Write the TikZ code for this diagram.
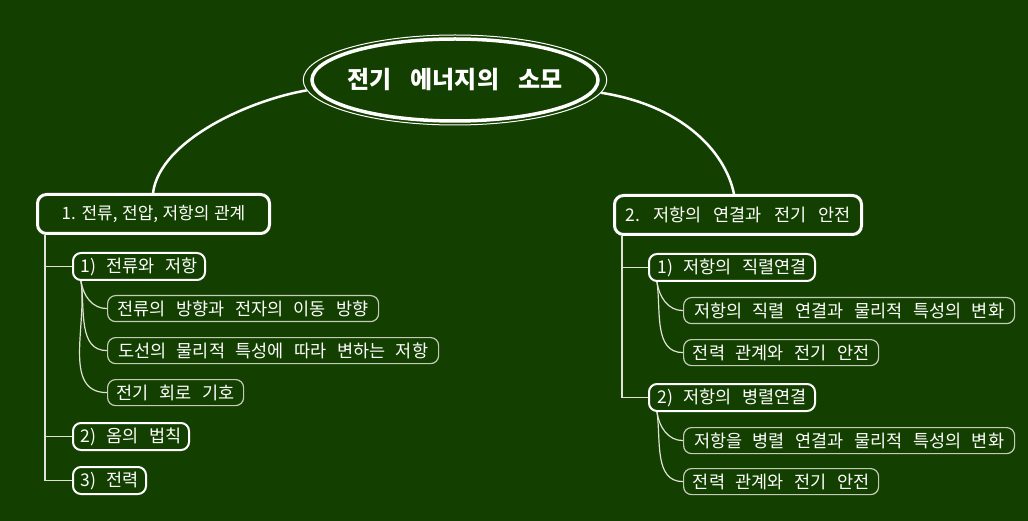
\documentclass[tikz,border=0pt]{standalone}
\usepackage{fontspec}
\setmainfont{Noto Sans CJK KR}
\usetikzlibrary{shapes.geometric}
\definecolor{bg}{RGB}{19,64,0}
\definecolor{leafdraw}{RGB}{196,204,184}
\definecolor{linec}{RGB}{224,226,214}
\newcommand\mytitlefont{\fontsize{24}{28}\selectfont\bfseries\spaceskip 19pt\relax}
\newcommand\myboxfont{\fontsize{17}{22}\selectfont\spaceskip 4.5pt\relax}
\newcommand\myboxfontwide{\fontsize{17.5}{22}\selectfont\spaceskip 12pt\relax}
\newcommand\myleaffont{\fontsize{17.5}{20}\selectfont\spaceskip 10.5pt\relax}
\begin{document}
\begin{tikzpicture}[x=1pt,y=-1pt,
  titlenode/.style={ellipse, draw=white, line width=1pt, minimum width=294pt, minimum height=90pt, inner sep=0pt, text=white, font=\mytitlefont},
  mainbox/.style={draw=white, line width=3pt, rounded corners=9pt, text=white, inner sep=0pt, minimum height=39pt, anchor=north west, font=\myboxfont},
  subbox/.style={draw=white, line width=2pt, rounded corners=8pt, text=white, inner sep=0pt, minimum height=27pt, anchor=north west, font=\myleaffont},
  leafbox/.style={draw=leafdraw, line width=1.2pt, rounded corners=8pt, text=white, inner sep=0pt, minimum height=26pt, anchor=north west, font=\myleaffont},
  bigline/.style={draw=white, line width=2.5pt},
  trunk/.style={draw=linec, line width=1.5pt},
  leafline/.style={draw=linec, line width=1.2pt}
]
\fill[bg] (0,0) rectangle (1028,521);
\useasboundingbox (0,0) rectangle (1028,521);
% central topic
\node[titlenode] (title) at (455,80) {전기 에너지의 소모};
\draw[white, line width=3.5pt] (title.center) ellipse [x radius=143, y radius=41];
% main boxes
\node[mainbox, minimum width=232pt] (b1) at (36,193) {1. 전류, 전압, 저항의 관계};
\node[mainbox, minimum width=247pt, font=\myboxfontwide] (b2) at (613,194) {2. 저항의 연결과 전기 안전};
\draw[bigline] (title.184) .. controls (250,100) and (160,140) .. (b1.north -| 153,0);
\draw[bigline] (title.-5) .. controls (680,105) and (725,150) .. (b2.north -| 734,0);
% left sub
\node[subbox, minimum width=132pt] (s1) at (72,252) {1) 전류와 저항};
\node[subbox, minimum width=116pt] (s2) at (72,422) {2) 옴의 법칙};
\node[subbox, minimum width=73pt] (s3) at (72,466) {3) 전력};
\node[leafbox, minimum width=271pt] (l1) at (107,295) {전류의 방향과 전자의 이동 방향};
\node[leafbox, minimum width=331pt] (l2) at (107,337) {도선의 물리적 특성에 따라 변하는 저항};
\node[leafbox, minimum width=136pt] (l3) at (107,379) {전기 회로 기호};
\draw[trunk] ([xshift=9pt]b1.south west) |- (s3.west);
\draw[trunk] ([xshift=9pt]b1.south west) |- (s1.west);
\draw[trunk] ([xshift=9pt]b1.south west) |- (s2.west);
\foreach \l in {l1,l2,l3}
  \draw[leafline] ([xshift=9pt]s1.south west) to[out=-82,in=180] (\l.west);
% right sub
\node[subbox, minimum width=166pt] (r1) at (648,253) {1) 저항의 직렬연결};
\node[subbox, minimum width=166pt] (r2) at (648,383) {2) 저항의 병렬연결};
\node[leafbox, minimum width=331pt] (m1) at (683,297) {저항의 직렬 연결과 물리적 특성의 변화};
\node[leafbox, minimum width=195pt] (m2) at (683,339) {전력 관계와 전기 안전};
\node[leafbox, minimum width=331pt] (m3) at (683,427) {저항을 병렬 연결과 물리적 특성의 변화};
\node[leafbox, minimum width=195pt] (m4) at (683,468) {전력 관계와 전기 안전};
\draw[trunk] ([xshift=9pt]b2.south west) |- (r2.west);
\draw[trunk] ([xshift=9pt]b2.south west) |- (r1.west);
\foreach \l in {m1,m2}
  \draw[leafline] ([xshift=9pt]r1.south west) to[out=-82,in=180] (\l.west);
\foreach \l in {m3,m4}
  \draw[leafline] ([xshift=9pt]r2.south west) to[out=-82,in=180] (\l.west);
\end{tikzpicture}
\end{document}
